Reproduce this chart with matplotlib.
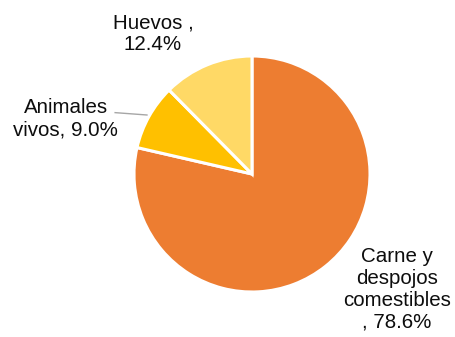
import matplotlib
matplotlib.use("Agg")
import matplotlib.pyplot as plt

categorias = ["Carne y\ndespojos\ncomestibles", "Animales\nvivos", "Huevos"]
porcentajes = [78.6, 9.0, 12.4]
etiquetas = ["Carne y\ndespojos\ncomestibles\n, 78.6%", "Animales\nvivos, 9.0%", "Huevos ,\n12.4%"]
colores = ["#ED7D31", "#FFC000", "#FFD966"]

plt.rcParams['font.family'] = ['Liberation Sans', 'DejaVu Sans']

fig = plt.figure(figsize=(4.55, 3.37), dpi=100)
W, H = 455, 337
cx, cy, r = 252, 174, 118
ax = fig.add_axes([(cx - r) / W, (H - cy - r) / H, 2 * r / W, 2 * r / H])

ax.pie(porcentajes, colors=colores, startangle=90, counterclock=False,
       wedgeprops=dict(edgecolor="white", linewidth=2.2))
ax.set_xlim(-1, 1)
ax.set_ylim(-1, 1)
ax.set_aspect("equal")
ax.axis("off")

# posiciones de etiquetas (centro del bloque, coordenadas del pastel)
pos = [(1.23, -0.975), (-1.58, 0.47), (-0.84, 1.19)]
for (x, y), txt in zip(pos, etiquetas):
    ax.text(x, y, txt, ha="center", va="center", fontsize=14.8,
            linespacing=1.2, color="#0d0d0d", clip_on=False)

ax.plot([-1.16, -0.89], [0.52, 0.50], color="#a6a6a6", lw=1, clip_on=False)

fig.savefig("out.png", dpi=100)
